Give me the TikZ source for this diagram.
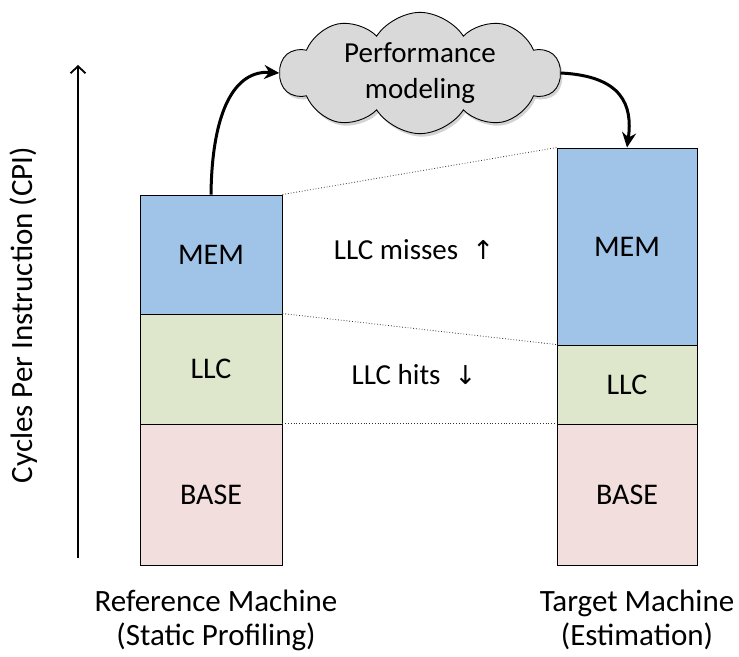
\documentclass[tikz,border=0pt]{standalone}
\usepackage{fontspec}
\setmainfont{Carlito}
\newfontfamily\symfont{DejaVu Sans}
\usetikzlibrary{shapes.symbols,shadows,arrows.meta,positioning}
\definecolor{memc}{HTML}{A0C3E8}
\definecolor{llcc}{HTML}{DEE7CB}
\definecolor{basec}{HTML}{F2DEDD}
\definecolor{cloudc}{HTML}{D9D9D9}
\tikzset{
  seg/.style={draw=black, line width=0.9pt, inner sep=0pt, font=\fontsize{30}{34}\selectfont},
  lbl/.style={font=\fontsize{31}{34}\selectfont, align=center, inner sep=0pt},
  guide/.style={dotted, line width=0.8pt, black!80},
  flow/.style={line width=3pt, -{Stealth[length=15pt,width=14pt]}},
}
\begin{document}
\begin{tikzpicture}[x=1pt,y=-1pt]
\useasboundingbox (0,0) rectangle (739,656);
% axis
\coordinate (ax0) at (78,558);
\coordinate (ax1) at (78,65);
\draw[line width=1.8pt,-{Straight Barb[length=7pt,width=15pt,line width=1.8pt]}] (ax0) -- (ax1);
\node[lbl, rotate=90] (ylab) at (24,315) {Cycles Per Instruction (CPI)};
% left bar
\node[seg, fill=memc, minimum width=142pt, minimum height=119pt] (lmem) at (211,254.5) {MEM};
\node[seg, fill=llcc, minimum width=142pt, minimum height=110pt] (lllc) at (211,369) {LLC};
\node[seg, fill=basec, minimum width=142pt, minimum height=141pt] (lbase) at (211,494.5) {BASE};
% right bar
\node[seg, fill=memc, minimum width=140pt, minimum height=197pt] (rmem) at (627,246.5) {MEM};
\node[seg, fill=llcc, minimum width=140pt, minimum height=79pt] (rllc) at (627,384.5) {LLC};
\node[seg, fill=basec, minimum width=140pt, minimum height=141pt] (rbase) at (627,494.5) {BASE};
% guides
\draw[guide] (lmem.north east) -- (rmem.north west);
\draw[guide] (lllc.north east) -- (rllc.north west);
\draw[guide] (lbase.north east) -- (rbase.north west);
% middle labels
\node[lbl, font=\fontsize{29}{34}\selectfont] (miss) at (414,250) {LLC misses\hspace{14pt}{\symfont\fontsize{26}{30}\selectfont ↑}};
\node[lbl, font=\fontsize{29}{34}\selectfont] (hits) at (414,375) {LLC hits\hspace{14pt}{\symfont\fontsize{26}{30}\selectfont ↓}};
% cloud
\node[cloud, cloud puffs=10, cloud puff arc=115, aspect=2.4, draw=black, line width=0.9pt, fill=cloudc,
      drop shadow={shadow xshift=2pt, shadow yshift=-3pt, opacity=0.35},
      minimum width=280pt, minimum height=116pt, inner sep=0pt, font=\fontsize{29}{36}\selectfont, align=center] (cloud) at (420,73)
      {Performance\\modeling};
% flow arrows
\draw[flow] (lmem.north) .. controls (212,110) and (235,70) .. (cloud.west);
\draw[flow] (cloud.east) .. controls (622,76) and (633,105) .. (rmem.north);
% bottom labels
\node[lbl] (lname) at (216,620) {Reference Machine\\(Static Profiling)};
\node[lbl] (rname) at (637,620) {Target Machine\\(Estimation)};
\end{tikzpicture}
\end{document}
